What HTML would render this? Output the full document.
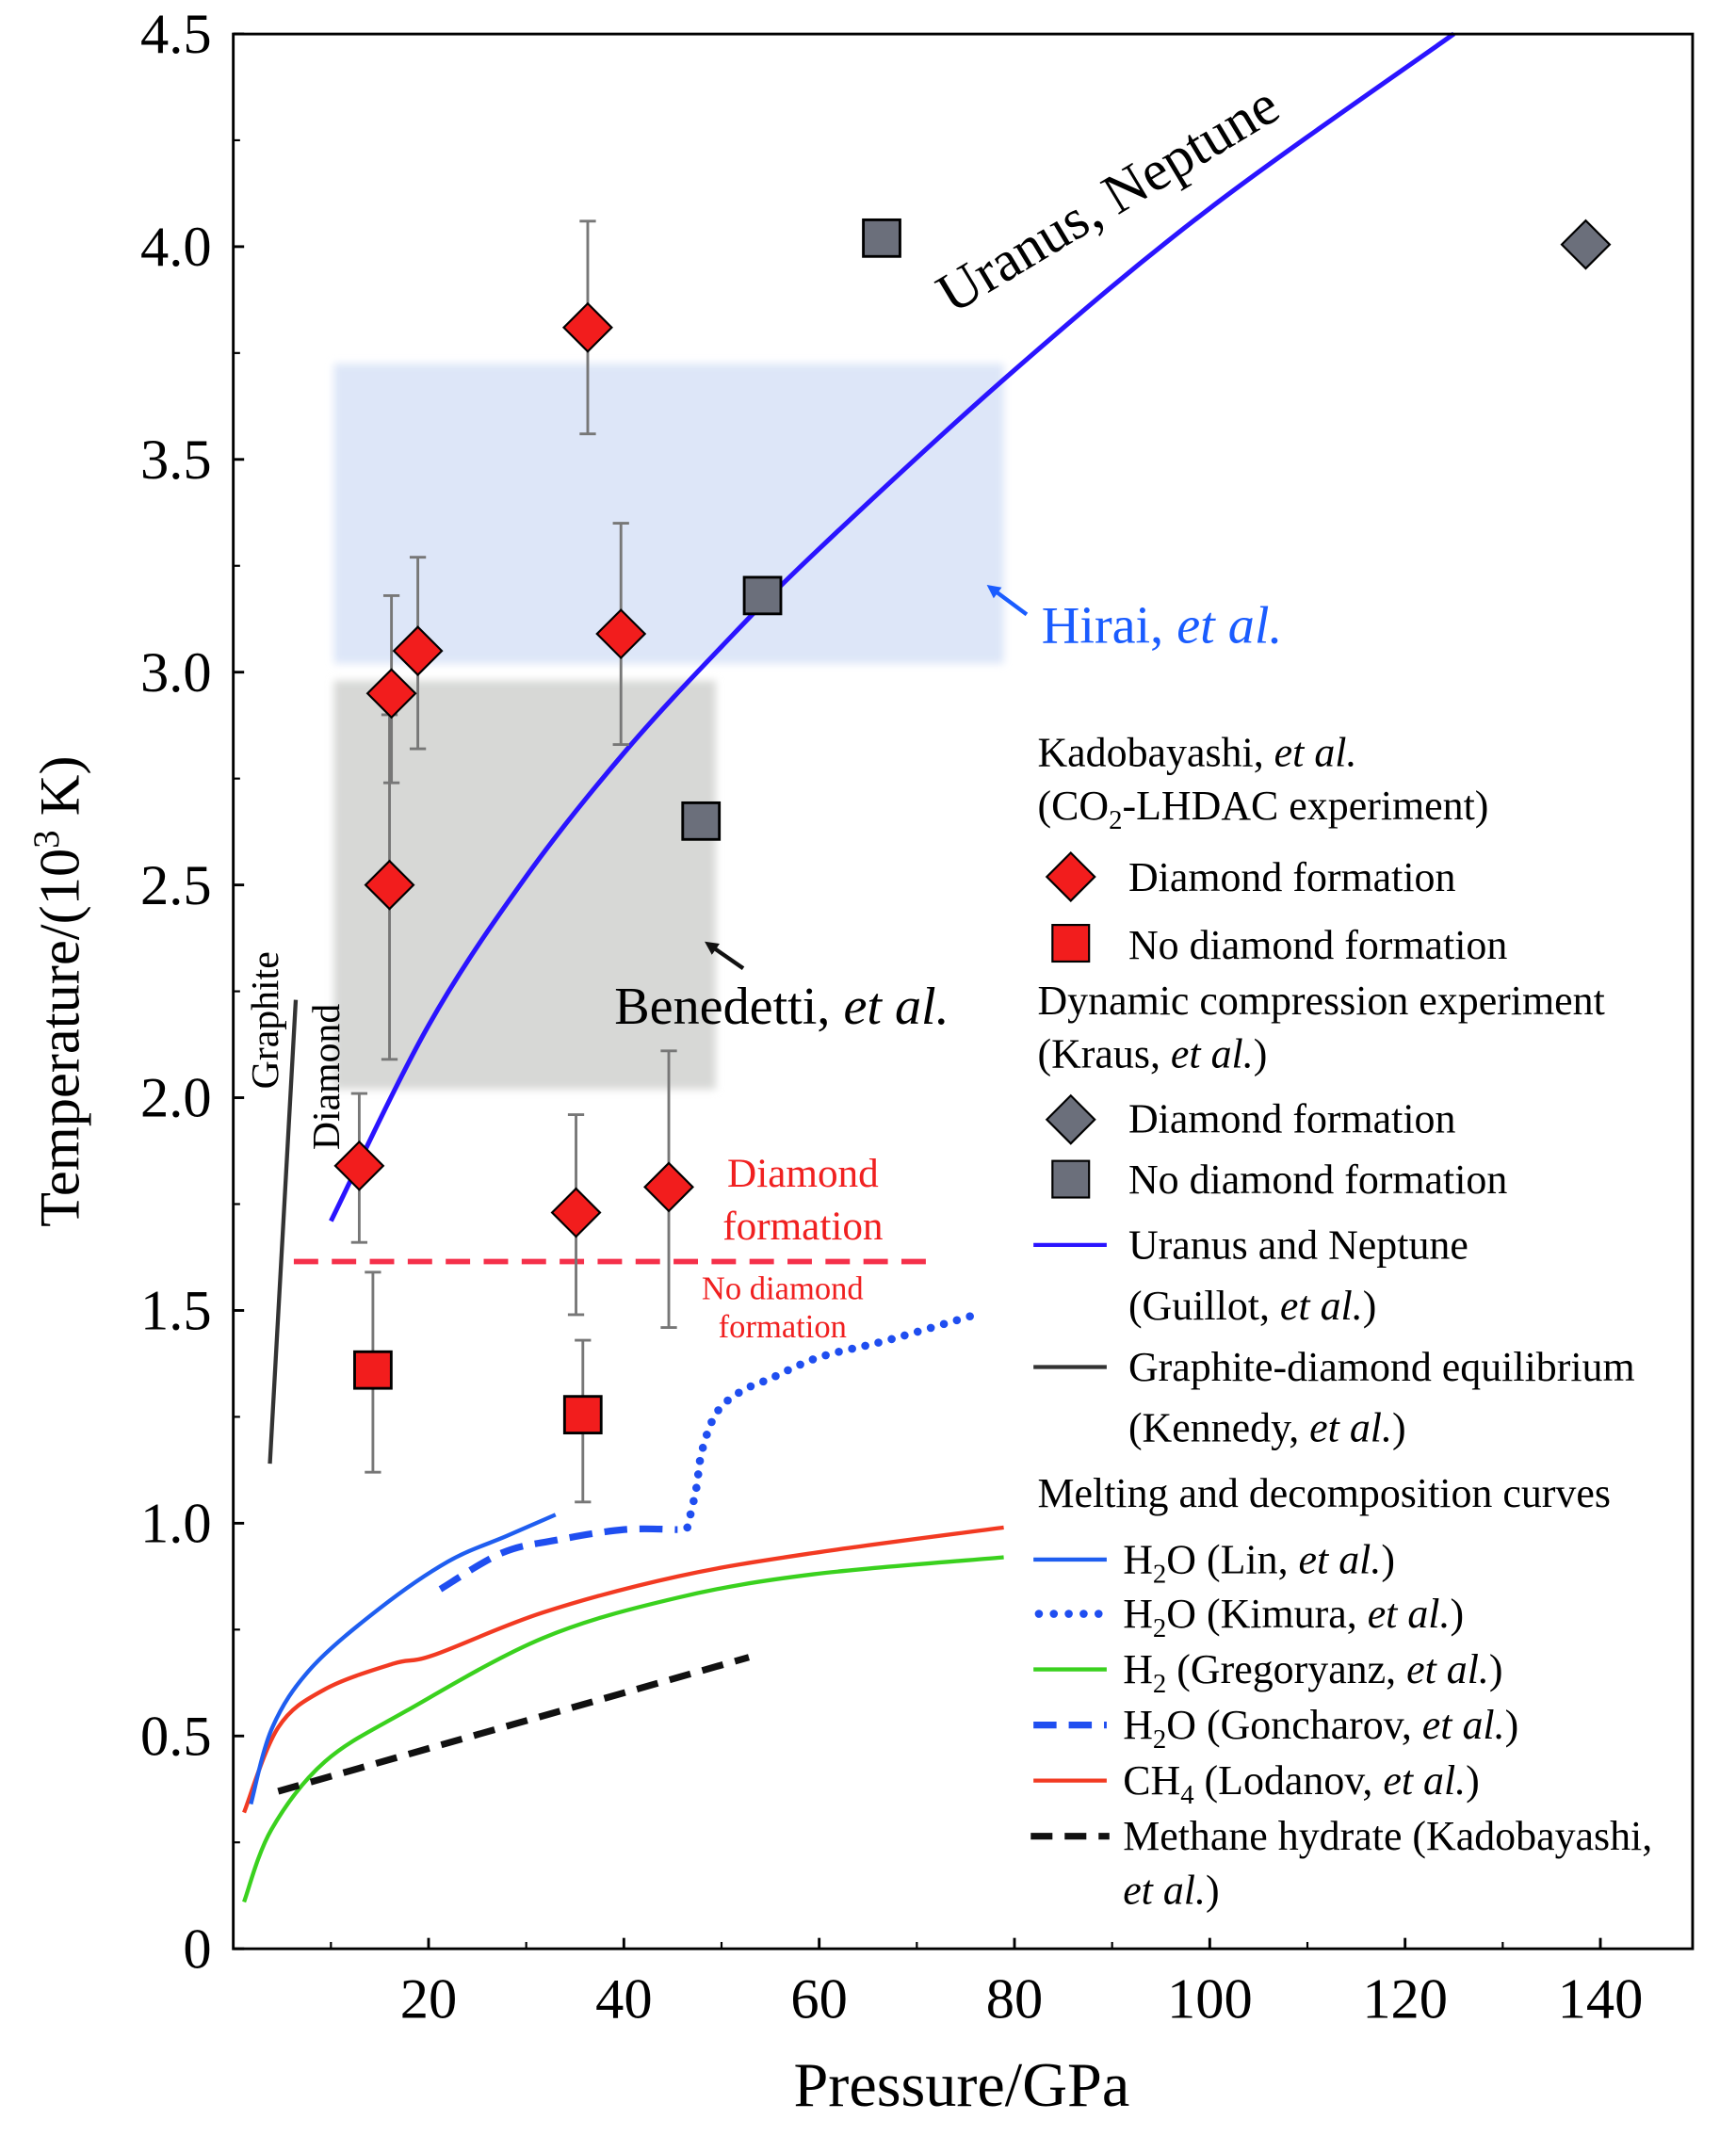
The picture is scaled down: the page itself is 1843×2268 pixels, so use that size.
<!DOCTYPE html>
<html><head><meta charset="utf-8"><style>
html,body{margin:0;padding:0;background:#fff}
svg{display:block}
text{font-family:"Liberation Serif",serif}
</style></head><body>
<svg id="chart" width="1843" height="2268" viewBox="0 0 1280 1575" xmlns="http://www.w3.org/2000/svg">
<defs>
<filter id="blur" x="-5%" y="-5%" width="110%" height="110%"><feGaussianBlur stdDeviation="3"/></filter>
<marker id="arrB" markerWidth="10" markerHeight="10" refX="7" refY="5" orient="auto" markerUnits="userSpaceOnUse"><path d="M0,0 L10,5 L0,10 z" fill="#1a5cff"/></marker>
<marker id="arrK" markerWidth="10" markerHeight="10" refX="7" refY="5" orient="auto" markerUnits="userSpaceOnUse"><path d="M0,0 L10,5 L0,10 z" fill="#111"/></marker>
</defs>
<g id="regions"></g>
<g id="curves"></g>
<g id="points"></g>
<g id="axes"></g>
<g id="labels">
<text x="702" y="232" font-size="42" transform="rotate(-31 702 232)">Uranus, Neptune</text>
<line x1="757" y1="453" x2="730" y2="433" stroke="#1a5cff" stroke-width="3" marker-end="url(#arrB)"/>
<text x="768" y="474" font-size="39" fill="#1a5cff">Hirai, <tspan font-style="italic">et al.</tspan></text>
<line x1="548" y1="714" x2="522" y2="696" stroke="#111" stroke-width="3" marker-end="url(#arrK)"/>
<text x="453" y="755" font-size="39">Benedetti, <tspan font-style="italic">et al.</tspan></text>
<text x="205" y="803" font-size="29" transform="rotate(-90 205 803)">Graphite</text>
<text x="250" y="848" font-size="29" transform="rotate(-90 250 848)">Diamond</text>
<text x="592" y="875" font-size="30" fill="#f02020" text-anchor="middle">Diamond</text>
<text x="592" y="914" font-size="30" fill="#f02020" text-anchor="middle">formation</text>
<text x="577" y="958" font-size="24" fill="#f02020" text-anchor="middle">No diamond</text>
<text x="577" y="986" font-size="24" fill="#f02020" text-anchor="middle">formation</text>
</g>
<g id="legend" font-size="30.5">
<text x="765" y="565">Kadobayashi, <tspan font-style="italic">et al.</tspan></text>
<text x="765" y="604">(CO<tspan font-size="20" dy="7">2</tspan><tspan dy="-7">-LHDAC experiment)</tspan></text>
<rect x="777" y="634" width="25" height="25" transform="rotate(45 789.5 646.5)" fill="#f21d1d" stroke="#000" stroke-width="1.5"/>
<text x="832" y="657">Diamond formation</text>
<rect x="776" y="682" width="27" height="27" fill="#f21d1d" stroke="#000" stroke-width="1.5"/>
<text x="832" y="707">No diamond formation</text>
<text x="765" y="748">Dynamic compression experiment</text>
<text x="765" y="787">(Kraus, <tspan font-style="italic">et al.</tspan>)</text>
<rect x="777" y="813" width="25" height="25" transform="rotate(45 789.5 825.5)" fill="#6b6f7b" stroke="#000" stroke-width="1.5"/>
<text x="832" y="835">Diamond formation</text>
<rect x="776" y="856" width="27" height="27" fill="#6b6f7b" stroke="#000" stroke-width="1.5"/>
<text x="832" y="880">No diamond formation</text>
<line x1="762" y1="918" x2="816" y2="918" stroke="#2a14ff" stroke-width="3"/>
<text x="832" y="928">Uranus and Neptune</text>
<text x="832" y="973">(Guillot, <tspan font-style="italic">et al.</tspan>)</text>
<line x1="762" y1="1008" x2="816" y2="1008" stroke="#333" stroke-width="3"/>
<text x="832" y="1018">Graphite-diamond equilibrium</text>
<text x="832" y="1063">(Kennedy, <tspan font-style="italic">et al.</tspan>)</text>
<text x="765" y="1111">Melting and decomposition curves</text>
<line x1="762" y1="1150" x2="816" y2="1150" stroke="#1f5ef0" stroke-width="3"/>
<text x="828" y="1160">H<tspan font-size="20" dy="7">2</tspan><tspan dy="-7">O (Lin, </tspan><tspan font-style="italic">et al.</tspan>)</text>
<line x1="766" y1="1190" x2="816" y2="1190" stroke="#1f4ef0" stroke-width="6" stroke-dasharray="0 11" stroke-linecap="round"/>
<text x="828" y="1200">H<tspan font-size="20" dy="7">2</tspan><tspan dy="-7">O (Kimura, </tspan><tspan font-style="italic">et al.</tspan>)</text>
<line x1="762" y1="1231" x2="816" y2="1231" stroke="#3ad11e" stroke-width="3"/>
<text x="828" y="1241">H<tspan font-size="20" dy="7">2</tspan><tspan dy="-7"> (Gregoryanz, </tspan><tspan font-style="italic">et al.</tspan>)</text>
<line x1="762" y1="1272" x2="816" y2="1272" stroke="#1f4ef0" stroke-width="5" stroke-dasharray="17 9"/>
<text x="828" y="1282">H<tspan font-size="20" dy="7">2</tspan><tspan dy="-7">O (Goncharov, </tspan><tspan font-style="italic">et al.</tspan>)</text>
<line x1="762" y1="1313" x2="816" y2="1313" stroke="#f23a22" stroke-width="3"/>
<text x="828" y="1323">CH<tspan font-size="20" dy="7">4</tspan><tspan dy="-7"> (Lodanov, </tspan><tspan font-style="italic">et al.</tspan>)</text>
<line x1="760" y1="1354" x2="818" y2="1354" stroke="#111" stroke-width="5" stroke-dasharray="16 9"/>
<text x="828" y="1364">Methane hydrate (Kadobayashi,</text>
<text x="828" y="1404" font-style="italic">et al.<tspan font-style="normal">)</tspan></text>
</g>
</svg>
<script>
const xTicks=[20,40,60,80,100,120,140];
const yTicks=[0,0.5,1.0,1.5,2.0,2.5,3.0,3.5,4.0,4.5];
const yTickLabels=["0","0.5","1.0","1.5","2.0","2.5","3.0","3.5","4.0","4.5"];
const redDiamondP=[12.9,16.2,18.9,16.0,36.3,39.7,35.1,44.6];
const redDiamondT=[1.84,2.95,3.05,2.50,3.81,3.09,1.73,1.79];
const redDiamondHi=[2.01,3.18,3.27,2.90,4.06,3.35,1.96,2.11];
const redDiamondLo=[1.66,2.74,2.82,2.09,3.56,2.83,1.49,1.46];
const redSquareP=[14.3,35.8];
const redSquareT=[1.36,1.255];
const redSquareHi=[1.59,1.43];
const redSquareLo=[1.12,1.05];
const greySquareP=[66.4,54.2,47.9];
const greySquareT=[4.02,3.18,2.65];
const greyDiamondP=[138.5];
const greyDiamondT=[4.005];
const uranusP=[10,20,30,40,50,60,80,100,125];
const uranusT=[1.71,2.17,2.52,2.81,3.06,3.29,3.71,4.09,4.50];
const linP=[1.8,4,8,15,22,28,33];
const linT=[0.34,0.52,0.66,0.80,0.91,0.97,1.02];
const goncharovP=[21.2,27.5,33,40,45.5];
const goncharovT=[0.845,0.93,0.96,0.985,0.985];
const kimuraP=[46.5,47.4,48,49.5,52,55,60,67,76];
const kimuraT=[0.99,1.08,1.17,1.26,1.31,1.34,1.39,1.43,1.49];
const h2P=[1.1,3.9,9.4,17.8,31.7,45.5,59.4,78.9];
const h2T=[0.11,0.28,0.44,0.56,0.73,0.825,0.88,0.92];
const ch4P=[1.1,4.6,9.4,16.4,20.5,31.7,45.5,59.4,78.9];
const ch4T=[0.32,0.52,0.61,0.67,0.69,0.79,0.875,0.93,0.99];
const hydrateP=[4.6,52.8];
const hydrateT=[0.37,0.685];
const graphiteP=[3.75,6.4];
const graphiteT=[1.14,2.23];
const thresholdT=1.615;
const thresholdRange=[6.2,72];
const hiraiBox=[10.3,78.9,3.02,3.725];
const benedettiBox=[10.3,49.4,2.02,2.98];

const X0=172,XS=7.2,Y0=1437,YS=313.8;
const sx=p=>X0+p*XS, sy=t=>Y0-t*YS;
const NS="http://www.w3.org/2000/svg";
function mk(parent,tag,attrs){const e=document.createElementNS(NS,tag);for(const k in attrs)e.setAttribute(k,attrs[k]);document.getElementById(parent).appendChild(e);return e;}

function box(b,fill){return mk('regions','rect',{x:sx(b[0]),y:sy(b[3]),width:sx(b[1])-sx(b[0]),height:sy(b[2])-sy(b[3]),fill:fill,filter:'url(#blur)'});}
let e=box(hiraiBox,'#dde6f8');


e=box(benedettiBox,'#d7d8d6');



function smooth(P,T){const pts=P.map((p,i)=>[sx(p),sy(T[i])]);let d='M'+pts[0][0]+','+pts[0][1];
for(let i=0;i<pts.length-1;i++){const p0=pts[i-1]||pts[i],p1=pts[i],p2=pts[i+1],p3=pts[i+2]||p2;
d+=' C'+(p1[0]+(p2[0]-p0[0])/6)+','+(p1[1]+(p2[1]-p0[1])/6)+' '+(p2[0]-(p3[0]-p1[0])/6)+','+(p2[1]-(p3[1]-p1[1])/6)+' '+p2[0]+','+p2[1];}return d;}
function curve(P,T,attrs){return mk('curves','path',Object.assign({d:smooth(P,T),fill:'none'},attrs));}

e=curve(uranusP,uranusT,{stroke:'#2a14ff','stroke-width':3.5});


e=curve(graphiteP,graphiteT,{stroke:'#333','stroke-width':3});


e=mk('curves','line',{x1:sx(thresholdRange[0]),x2:sx(thresholdRange[1]),y1:sy(thresholdT),y2:sy(thresholdT),stroke:'#f5304a','stroke-width':4,'stroke-dasharray':'18 10'});


e=curve(h2P,h2T,{stroke:'#3ad11e','stroke-width':3});


e=curve(ch4P,ch4T,{stroke:'#f23a22','stroke-width':3});


e=curve(linP,linT,{stroke:'#1f5ef0','stroke-width':3});


e=curve(goncharovP,goncharovT,{stroke:'#1f4ef0','stroke-width':5,'stroke-dasharray':'17 9'});


e=curve(kimuraP,kimuraT,{stroke:'#1f4ef0','stroke-width':6,'stroke-dasharray':'0 10','stroke-linecap':'round'});


e=curve(hydrateP,hydrateT,{stroke:'#111','stroke-width':5,'stroke-dasharray':'16 9'});



function errbar(p,hi,lo){const x=sx(p);
mk('points','line',{x1:x,x2:x,y1:sy(hi),y2:sy(lo),stroke:'#777','stroke-width':2});
mk('points','line',{x1:x-6,x2:x+6,y1:sy(hi),y2:sy(hi),stroke:'#777','stroke-width':2});
mk('points','line',{x1:x-6,x2:x+6,y1:sy(lo),y2:sy(lo),stroke:'#777','stroke-width':2});}
function diamond(p,t,fill){const x=sx(p),y=sy(t);return mk('points','rect',{x:x-12.5,y:y-12.5,width:25,height:25,transform:`rotate(45 ${x} ${y})`,fill:fill,stroke:'#000','stroke-width':1.5});}
function square(p,t,fill){const x=sx(p),y=sy(t);return mk('points','rect',{x:x-13.5,y:y-13.5,width:27,height:27,fill:fill,stroke:'#000','stroke-width':2});}

redDiamondP.forEach((p,i)=>errbar(p,redDiamondHi[i],redDiamondLo[i]));
redSquareP.forEach((p,i)=>errbar(p,redSquareHi[i],redSquareLo[i]));
redDiamondP.forEach((p,i)=>{const m=diamond(p,redDiamondT[i],'#f21d1d');

});
redSquareP.forEach((p,i)=>{const m=square(p,redSquareT[i],'#f21d1d');

});
greySquareP.forEach((p,i)=>{const m=square(p,greySquareT[i],'#6b6f7b');

});
greyDiamondP.forEach((p,i)=>{const m=diamond(p,greyDiamondT[i],'#6b6f7b');

});

e=mk('axes','rect',{x:172,y:25,width:1076,height:1412,fill:'none',stroke:'#000','stroke-width':2});


xTicks.forEach(v=>{mk('axes','line',{x1:sx(v),x2:sx(v),y1:Y0,y2:Y0-8,stroke:'#000','stroke-width':2});
const t=mk('axes','text',{x:sx(v),y:1488,'font-size':42,'text-anchor':'middle'});t.textContent=v;

});
for(let v=10;v<150;v+=20)mk('axes','line',{x1:sx(v),x2:sx(v),y1:Y0,y2:Y0-5,stroke:'#000','stroke-width':1.5});
yTicks.forEach((v,i)=>{mk('axes','line',{x1:X0,x2:X0+8,y1:sy(v),y2:sy(v),stroke:'#000','stroke-width':2});
const t=mk('axes','text',{x:156,y:sy(v)+14,'font-size':42,'text-anchor':'end'});t.textContent=yTickLabels[i];

});
for(let v=0.25;v<4.5;v+=0.5)mk('axes','line',{x1:X0,x2:X0+5,y1:sy(v),y2:sy(v),stroke:'#000','stroke-width':1.5});
e=mk('axes','text',{x:709,y:1553,'font-size':46,'text-anchor':'middle'});e.textContent='Pressure/GPa';


e=mk('axes','text',{x:58,y:731,'font-size':42,'text-anchor':'middle',transform:'rotate(-90 58 731)'});
e.innerHTML='Temperature/(10<tspan font-size="27" dy="-15">3</tspan><tspan dy="15"> K)</tspan>';


</script>
</body></html>
